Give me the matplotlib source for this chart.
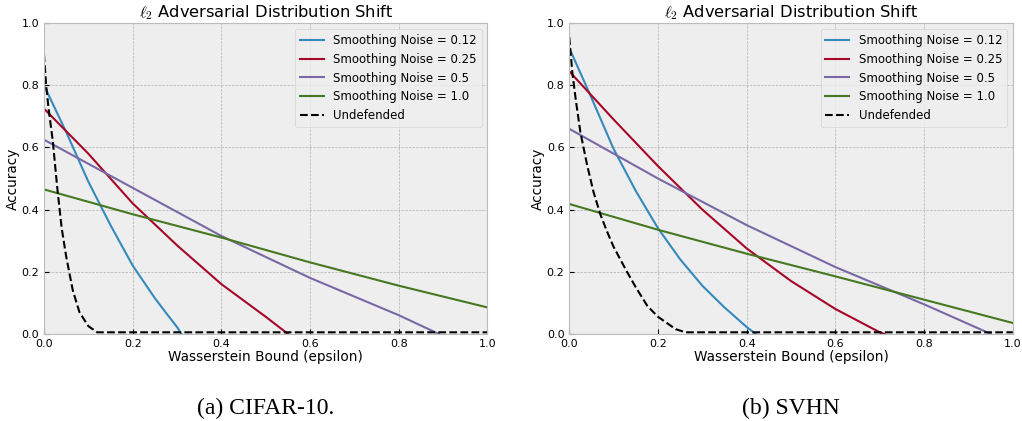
#!/usr/bin/env python3
"""l2 adversarial distribution shift - CIFAR-10 / SVHN, accuracy vs Wasserstein bound."""
import matplotlib
matplotlib.use('Agg')
import matplotlib.pyplot as plt

plt.style.use('bmh')

noise_labels = ['Smoothing Noise = 0.12', 'Smoothing Noise = 0.25',
                'Smoothing Noise = 0.5', 'Smoothing Noise = 1.0']
colors = ['#348ABD', '#A60628', '#7A68A6', '#467821']

# CIFAR-10 curves (eps, accuracy)
cifar_012_x = [0.0, 0.05, 0.1, 0.15, 0.2, 0.25, 0.275, 0.3, 0.31]
cifar_012_y = [0.80, 0.65, 0.49, 0.35, 0.22, 0.115, 0.068, 0.022, 0.0]
cifar_025_x = [0.0, 0.1, 0.2, 0.3, 0.4, 0.5, 0.55]
cifar_025_y = [0.725, 0.58, 0.42, 0.285, 0.16, 0.055, 0.0]
cifar_05_x = [0.0, 0.2, 0.4, 0.6, 0.8, 0.89]
cifar_05_y = [0.625, 0.47, 0.315, 0.18, 0.06, 0.0]
cifar_10_x = [0.0, 0.2, 0.4, 0.6, 0.8, 1.0]
cifar_10_y = [0.465, 0.385, 0.31, 0.23, 0.155, 0.085]
cifar_und_x = [0.0, 0.005, 0.01, 0.02, 0.03, 0.04, 0.05, 0.065, 0.08, 0.1, 0.12, 1.0]
cifar_und_y = [0.90, 0.80, 0.73, 0.62, 0.47, 0.34, 0.25, 0.14, 0.07, 0.025, 0.005, 0.005]

# SVHN curves
svhn_012_x = [0.0, 0.05, 0.1, 0.15, 0.2, 0.25, 0.3, 0.35, 0.4, 0.42]
svhn_012_y = [0.92, 0.76, 0.595, 0.46, 0.34, 0.24, 0.155, 0.085, 0.022, 0.0]
svhn_025_x = [0.0, 0.1, 0.2, 0.3, 0.4, 0.5, 0.6, 0.7, 0.71]
svhn_025_y = [0.845, 0.69, 0.54, 0.40, 0.275, 0.17, 0.08, 0.005, 0.0]
svhn_05_x = [0.0, 0.2, 0.4, 0.6, 0.8, 0.95]
svhn_05_y = [0.66, 0.50, 0.35, 0.215, 0.095, 0.0]
svhn_10_x = [0.0, 0.2, 0.4, 0.6, 0.8, 1.0]
svhn_10_y = [0.418, 0.335, 0.258, 0.185, 0.11, 0.035]
svhn_und_x = [0.0, 0.007, 0.015, 0.025, 0.04, 0.055, 0.07, 0.085, 0.1, 0.13,
              0.15, 0.176, 0.2, 0.22, 0.24, 0.262, 1.0]
svhn_und_y = [0.955, 0.84, 0.75, 0.65, 0.545, 0.455, 0.385, 0.33, 0.28, 0.2,
              0.15, 0.09, 0.055, 0.035, 0.015, 0.005, 0.005]

panels = [
    ([(cifar_012_x, cifar_012_y), (cifar_025_x, cifar_025_y),
      (cifar_05_x, cifar_05_y), (cifar_10_x, cifar_10_y)],
     (cifar_und_x, cifar_und_y), '(a) CIFAR-10.', 0.043),
    ([(svhn_012_x, svhn_012_y), (svhn_025_x, svhn_025_y),
      (svhn_05_x, svhn_05_y), (svhn_10_x, svhn_10_y)],
     (svhn_und_x, svhn_und_y), '(b) SVHN', 0.557),
]

fig = plt.figure(figsize=(10.22, 4.21), dpi=100, facecolor='white')

for curves, und, caption, left in panels:
    ax = fig.add_axes([left, 0.207, 0.434, 0.738])
    for (xs, ys), lab, c in zip(curves, noise_labels, colors):
        ax.plot(xs, ys, color=c, lw=1.5, label=lab)
    ax.plot(und[0], und[1], 'k--', lw=1.5, label='Undefended')
    ax.set_xlim(0, 1)
    ax.set_ylim(0, 1)
    ax.tick_params(labelsize=8)
    ax.set_title(r'$\ell_2$ Adversarial Distribution Shift', fontsize=11.7, pad=4)
    ax.set_xlabel('Wasserstein Bound (epsilon)', fontsize=9.8, labelpad=1)
    ax.set_ylabel('Accuracy', fontsize=9.8, labelpad=1)
    ax.legend(loc='upper right', fontsize=8.5, handlelength=2.0)
    fig.text(left + 0.217, 0.03, caption, ha='center', va='center',
             fontsize=17, family='Liberation Serif')

plt.savefig('out.png', dpi=100, facecolor='white')
